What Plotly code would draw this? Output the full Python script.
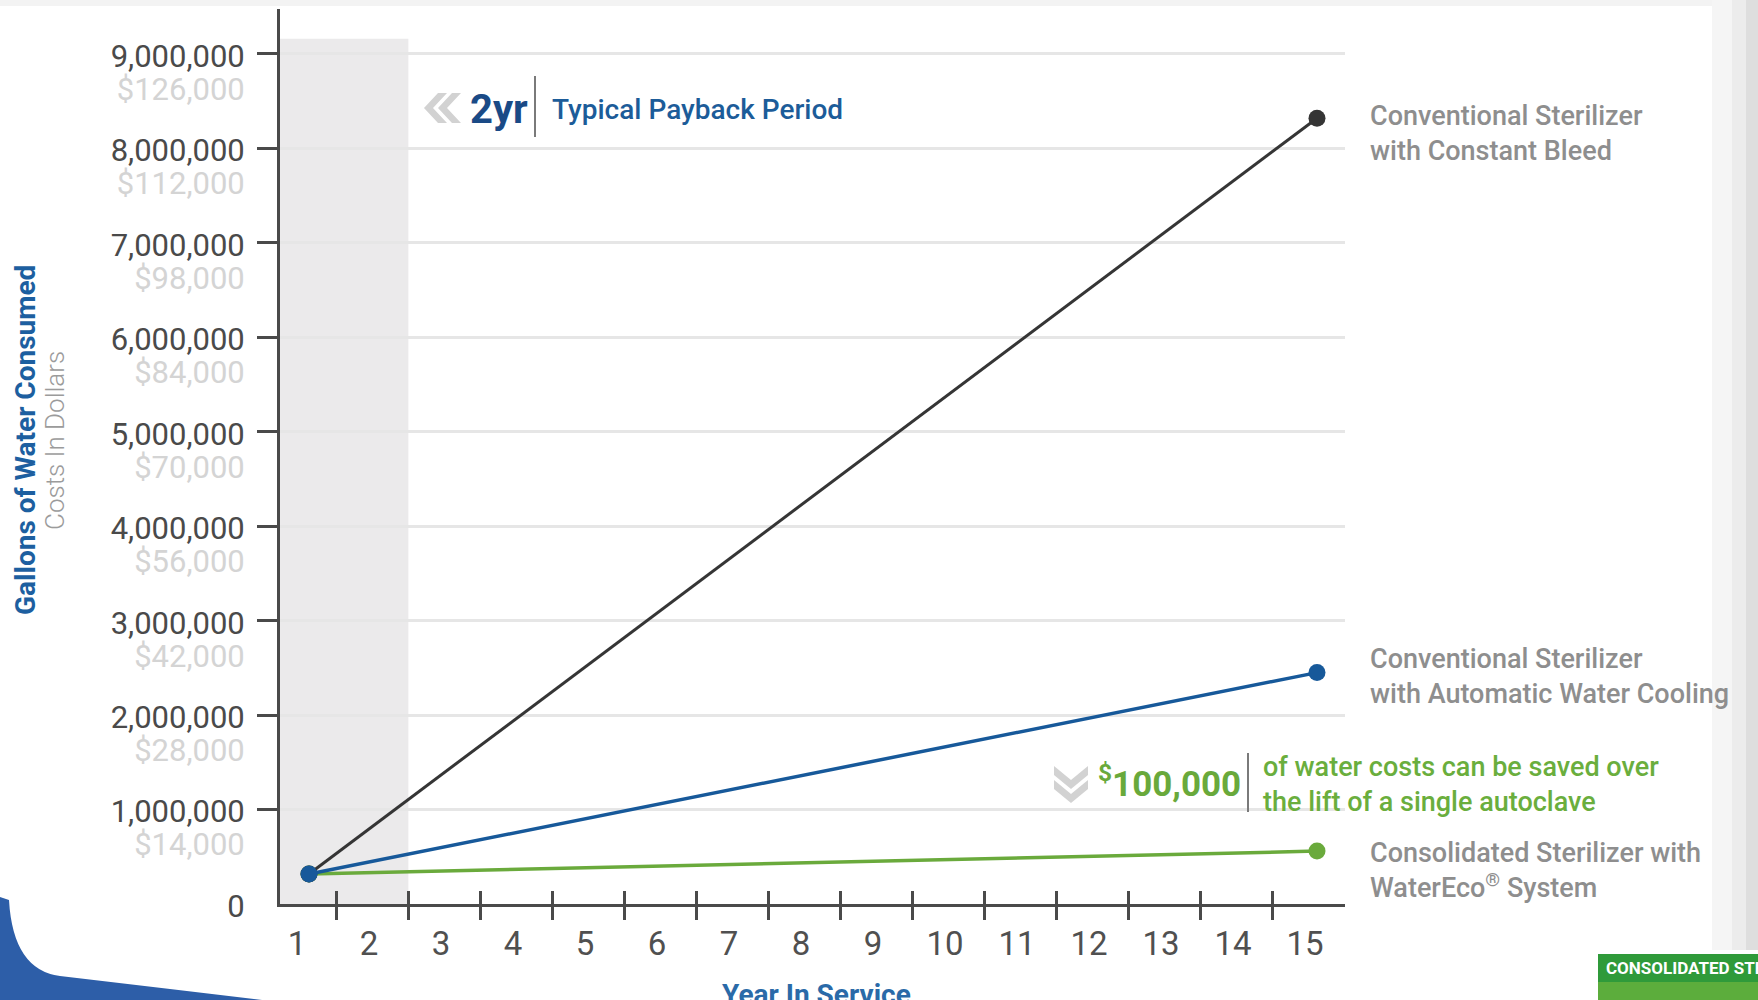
import plotly.graph_objects as go

# ---------------- data ----------------
years = [1, 15]
constant_bleed = [318000, 8320000]      # Conventional Sterilizer with Constant Bleed
auto_cooling = [318000, 2450000]        # Conventional Sterilizer with Automatic Water Cooling
water_eco = [318000, 560000]            # Consolidated Sterilizer with WaterEco System

series_names = [
    "Conventional Sterilizer<br>with Constant Bleed",
    "Conventional Sterilizer<br>with Automatic Water Cooling",
    "Consolidated Sterilizer with<br>WaterEco<sup>®</sup> System",
]

x_labels = [str(i) for i in range(1, 16)]
gallon_ticks = [0, 1000000, 2000000, 3000000, 4000000, 5000000, 6000000, 7000000, 8000000, 9000000]
gallon_labels = ["0", "1,000,000", "2,000,000", "3,000,000", "4,000,000", "5,000,000",
                 "6,000,000", "7,000,000", "8,000,000", "9,000,000"]
dollar_ticks = gallon_ticks[1:]
dollar_labels = ["$14,000", "$28,000", "$42,000", "$56,000", "$70,000",
                 "$84,000", "$98,000", "$112,000", "$126,000"]

payback_years = 2.38
payback_label = "2yr"
savings_text = "100,000"

# ---------------- styling ----------------
W, H = 1758, 1000
L, R, T, B = 280, 413, 9, 96
PW, PH = W - L - R, H - T - B


def px(x):
    return (x - L) / PW


def py(y):
    return (H - B - y) / PH


def poly(points):
    s = " L ".join(f"{px(a):.5f},{py(b):.5f}" for a, b in points)
    return "M " + s + " Z"


def left_chevron(xr, cy, w=14, t=9, hh=15):
    return poly([(xr - t, cy - hh), (xr - t - w, cy), (xr - t, cy + hh),
                 (xr, cy + hh), (xr - w, cy), (xr, cy - hh)])


def down_chevron(cx, y0, w=14, t=9, hw=17):
    return poly([(cx - hw, y0), (cx, y0 + w), (cx + hw, y0),
                 (cx + hw, y0 + t), (cx, y0 + w + t), (cx - hw, y0 + t)])


FONT = "Roboto, sans-serif"
XR = [0.597, 15.389]
YR = [0, 9476000]
tick_pos = [1.38 + i for i in range(14)]

BLACK = "#353535"
BLUE = "#17599a"
GREEN = "#6aaa3c"
AXIS = "#4a4a4a"
CHEV = "#d2d2d2"

fig = go.Figure()
for ys, col, w in [(water_eco, GREEN, 3.5), (constant_bleed, BLACK, 3), (auto_cooling, BLUE, 3.5)]:
    fig.add_trace(go.Scatter(
        x=years, y=ys, mode="lines+markers",
        line=dict(color=col, width=w),
        marker=dict(color=col, size=17),
        hoverinfo="skip", showlegend=False,
    ))
# transparent carriers so the overlay axes (inner ticks, dollar scale) get drawn
fig.add_trace(go.Scatter(x=years, y=water_eco, xaxis="x2", yaxis="y", mode="lines",
                         line=dict(color="rgba(0,0,0,0)", width=0), hoverinfo="skip", showlegend=False))
fig.add_trace(go.Scatter(x=years, y=water_eco, xaxis="x", yaxis="y2", mode="lines",
                         line=dict(color="rgba(0,0,0,0)", width=0), hoverinfo="skip", showlegend=False))

annotations = []
label_shift = [-15, -4, -19]
for name, ys, sh in zip(series_names, [constant_bleed, auto_cooling, water_eco], label_shift):
    annotations.append(dict(
        x=years[-1], y=ys[-1], xref="x", yref="y", text=name, showarrow=False,
        xanchor="left", yanchor="middle", align="left", xshift=51, yshift=sh,
        font=dict(family=FONT, size=27, color="#8e8e8e", weight=500),
    ))

annotations += [
    dict(x=px(468), y=py(109), xref="paper", yref="paper", text=payback_label, showarrow=False,
         xanchor="left", yanchor="middle",
         font=dict(family=FONT, size=40, color="#1a4a86", weight=700)),
    dict(x=px(550), y=py(109), xref="paper", yref="paper", text="Typical Payback Period", showarrow=False,
         xanchor="left", yanchor="middle",
         font=dict(family=FONT, size=28, color="#1c5c99", weight=500)),
    dict(x=px(1096), y=py(781), xref="paper", yref="paper", text="<sup>$</sup>" + savings_text, showarrow=False,
         xanchor="left", yanchor="middle",
         font=dict(family=FONT, size=35, color="#69a93b", weight=700)),
    dict(x=px(1261), y=py(784), xref="paper", yref="paper",
         text="of water costs can be saved over<br>the lift of a single autoclave", showarrow=False,
         xanchor="left", yanchor="middle", align="left",
         font=dict(family=FONT, size=27, color="#6aae3d", weight=500)),
    dict(x=px(25), y=py(440), xref="paper", yref="paper", text="Gallons of Water Consumed", showarrow=False,
         textangle=-90, xanchor="center", yanchor="middle",
         font=dict(family=FONT, size=28, color="#1d5fa0", weight=700)),
    dict(x=px(55), y=py(441), xref="paper", yref="paper", text="Costs In Dollars", showarrow=False,
         textangle=-90, xanchor="center", yanchor="middle",
         font=dict(family=FONT, size=26, color="#9b9b9b", weight=300)),
    dict(x=px(816), y=py(976), xref="paper", yref="paper", text="Year In Service", showarrow=False,
         xanchor="center", yanchor="top",
         font=dict(family=FONT, size=28, color="#2a6aa8", weight=700)),
    dict(x=px(1604), y=py(956), xref="paper", yref="paper", text="CONSOLIDATED STERILIZER",
         showarrow=False, xanchor="left", yanchor="top",
         font=dict(family=FONT, size=17, color="white", weight=700)),
]

shapes = [
    dict(type="rect", xref="x", yref="y", x0=XR[0], x1=payback_years, y0=0, y1=9160000,
         fillcolor="#ebeaeb", line=dict(width=0), layer="below"),
    # chevrons
    dict(type="path", xref="paper", yref="paper", path=left_chevron(447, 108),
         fillcolor=CHEV, line=dict(width=0)),
    dict(type="path", xref="paper", yref="paper", path=left_chevron(461, 108),
         fillcolor=CHEV, line=dict(width=0)),
    dict(type="path", xref="paper", yref="paper", path=down_chevron(1071, 766),
         fillcolor=CHEV, line=dict(width=0)),
    dict(type="path", xref="paper", yref="paper", path=down_chevron(1071, 780),
         fillcolor=CHEV, line=dict(width=0)),
    # separators
    dict(type="line", xref="paper", yref="paper", x0=px(535), x1=px(535), y0=py(76), y1=py(137),
         line=dict(color="#7a7a7a", width=2)),
    dict(type="line", xref="paper", yref="paper", x0=px(1248), x1=px(1248), y0=py(753), y1=py(812),
         line=dict(color="#7a7a7a", width=2)),
    # white box behind savings callout
    dict(type="rect", xref="paper", yref="paper", x0=px(1024), x1=1.0, y0=py(822), y1=py(745),
         fillcolor="white", line=dict(width=0), layer="between"),
    # page edge decorations
    dict(type="rect", xref="paper", yref="paper", x0=px(1712), x1=px(W), y0=py(0), y1=py(950),
         fillcolor="#f5f5f5", line=dict(width=0), layer="below"),
    dict(type="rect", xref="paper", yref="paper", x0=px(1732), x1=px(W), y0=py(0), y1=py(950),
         fillcolor="#ececec", line=dict(width=0), layer="below"),
    dict(type="rect", xref="paper", yref="paper", x0=px(1746), x1=px(W), y0=py(0), y1=py(950),
         fillcolor="#dedede", line=dict(width=0), layer="below"),
    dict(type="rect", xref="paper", yref="paper", x0=px(0), x1=px(1712), y0=py(0), y1=py(6),
         fillcolor="#f3f3f3", line=dict(width=0), layer="below"),
    # logo block
    dict(type="rect", xref="paper", yref="paper", x0=px(1598), x1=px(W), y0=py(954), y1=py(H),
         fillcolor="#5cad3c", line=dict(width=0), layer="above"),
    dict(type="rect", xref="paper", yref="paper", x0=px(1598), x1=px(W), y0=py(954), y1=py(982),
         fillcolor="#2f9a3a", line=dict(width=0), layer="above"),
    # bottom-left blue swoosh
    dict(type="path", xref="paper", yref="paper",
         path=(f"M {px(0)},{py(897)} L {px(9)},{py(900)} Q {px(13)},{py(970)} {px(60)},{py(976)} "
               f"L {px(170)},{py(989)} L {px(262)},{py(H)} L {px(0)},{py(H)} Z"),
         fillcolor="#2d5ea8", line=dict(width=0), layer="above"),
]

fig.update_layout(
    width=W, height=H,
    margin=dict(l=L, r=R, t=T, b=B, autoexpand=False),
    paper_bgcolor="white", plot_bgcolor="white",
    showlegend=False,
    annotations=annotations, shapes=shapes,
    xaxis=dict(
        range=XR, tickmode="array", tickvals=list(range(1, 16)), ticktext=x_labels,
        ticks="", ticklabelshift=-12, ticklabelstandoff=8, automargin=False,
        tickfont=dict(family=FONT, size=33, color="#505050"),
        showline=True, linecolor=AXIS, linewidth=3, showgrid=False, zeroline=False,
        minor=dict(tickmode="array", tickvals=tick_pos, ticks="outside", ticklen=13,
                   tickwidth=3, tickcolor=AXIS, showgrid=False),
        fixedrange=True,
    ),
    xaxis2=dict(
        range=XR, overlaying="x", anchor="y", side="bottom", automargin=False,
        tickmode="array", tickvals=tick_pos, ticks="inside", ticklen=13, tickwidth=3,
        tickcolor=AXIS, showticklabels=False, showline=False, showgrid=False, zeroline=False,
    ),
    yaxis=dict(
        range=YR, tickmode="array", tickvals=gallon_ticks, ticktext=gallon_labels,
        ticks="", ticklabelstandoff=26, ticklabelshift=2, automargin=False,
        tickfont=dict(family=FONT, size=31, color="#4a4a4a"),
        showline=True, linecolor=AXIS, linewidth=3,
        showgrid=True, gridcolor="#e6e6e6", gridwidth=2.5, zeroline=False,
    ),
    yaxis2=dict(
        range=YR, overlaying="y", anchor="x", side="left", automargin=False,
        tickmode="array", tickvals=dollar_ticks, ticktext=dollar_labels,
        ticks="outside", ticklen=22, tickwidth=3, tickcolor=AXIS,
        ticklabelshift=35, ticklabelstandoff=6,
        tickfont=dict(family=FONT, size=31, color="#d4d4d4"),
        showline=False, showgrid=False, zeroline=False,
    ),
)

fig.write_html("out.html")
